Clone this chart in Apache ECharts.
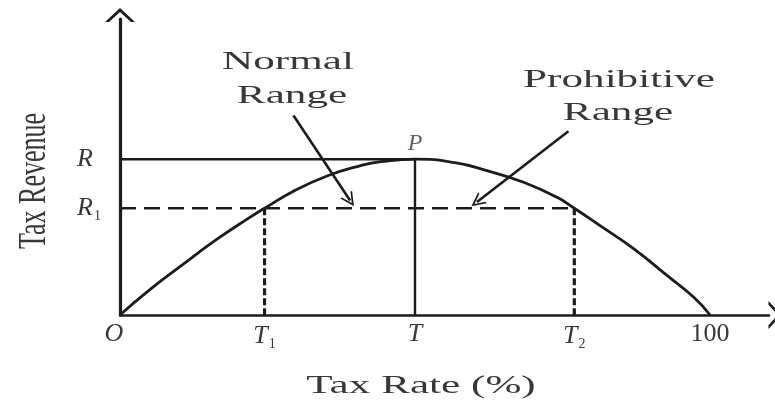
<!DOCTYPE html>
<html>
<head>
<meta charset="utf-8">
<script src="https://cdn.jsdelivr.net/npm/echarts@6/dist/echarts.min.js"></script>
<style>
  html, body { margin: 0; padding: 0; background: #fff; }
  #laffer { width: 775px; height: 403px; }
</style>
</head>
<body>
<div id="laffer"></div>
<script>
  // Laffer curve, tax rate in %, revenue scaled so that R = 100
  var rateX = [0, 4.8, 10.5, 16.2, 21.8, 24.5, 29.4, 35.2, 40.8, 44.2, 50, 57, 62.6, 68.4, 74, 77, 81.3, 87.1, 92.7, 97.3, 100];
  var revenueY = [0, 15.5, 32, 48, 62.2, 68.5, 79.5, 89.4, 95.9, 98.4, 100, 97.6, 92.2, 85.2, 75.7, 68.5, 57.5, 42.5, 25.4, 11.2, 0];

  var xTicks = [0, 24.5, 50, 77, 100];
  var xTickLabels = ['{o|O}', '{i|T}{s|1}', '{i|T}', '{i|T}{s|2}', '{n|100}'];
  var yTicks = [68.5, 100];
  var yTickLabels = ['{i|R}{s|1}', '{i|R}'];

  var peak = [50, 100];
  var r1 = 68.5, t1 = 24.5, t2 = 77;

  // annotation arrows: [from, to]
  var normalArrow = [[29.4, 128], [39, 73.5]];
  var prohibArrow = [[76, 118], [60.5, 72.5]];

  var ink = '#1c1c1c';
  var textInk = '#383838';
  var serif = '"Liberation Serif", "DejaVu Serif", serif';
  // open chevron, pointing up
  var chevron = 'path://M0,14 L15,0 L30,14 L26,14 L15,4 L4,14 Z';

  var curveData = rateX.map(function (x, i) { return [x, revenueY[i]]; });

  var richText = {
    i: { fontFamily: serif, fontStyle: 'italic', fontSize: 26, color: textInk },
    o: { fontFamily: serif, fontStyle: 'italic', fontSize: 26, color: textInk, padding: [0, 12, 0, 0] },
    n: { fontFamily: serif, fontSize: 26, color: textInk },
    s: { fontFamily: serif, fontSize: 14, color: textInk, padding: [16, 0, 0, 1] }
  };

  function stretchedText(str, x, y, rotated) {
    return {
      type: 'text',
      x: x, y: y,
      rotation: rotated ? Math.PI / 2 : 0,
      scaleX: rotated ? 1 : 1.66,
      scaleY: rotated ? 1.5 : 1,
      style: {
        text: str, x: 0, y: 0,
        fill: textInk,
        font: '26px ' + serif,
        textAlign: 'center',
        textVerticalAlign: 'middle'
      }
    };
  }

  var chart = echarts.init(document.getElementById('laffer'));
  chart.setOption({
    animation: false,
    backgroundColor: '#fff',
    grid: { left: 120, right: 6, top: 19, bottom: 88 },
    xAxis: {
      type: 'value', min: 0, max: 110,
      splitLine: { show: false },
      axisTick: { show: false },
      axisLine: {
        onZero: false,
        lineStyle: { color: ink, width: 2.5 },
        symbol: ['none', chevron],
        symbolSize: [28, 14],
        symbolOffset: [0, 6]
      },
      axisLabel: {
        customValues: xTicks,
        margin: 6,
        rich: richText,
        formatter: function (v) { return xTickLabels[xTicks.indexOf(v)]; }
      }
    },
    yAxis: {
      type: 'value', min: 0, max: 190,
      splitLine: { show: false },
      axisTick: { show: false },
      axisLine: {
        onZero: false,
        lineStyle: { color: ink, width: 3.2 },
        symbol: ['none', chevron],
        symbolSize: [30, 14],
        symbolOffset: [0, 4]
      },
      axisLabel: {
        customValues: yTicks,
        margin: 43,
        align: 'left',
        rich: richText,
        formatter: function (v) { return yTickLabels[yTicks.indexOf(v)]; }
      }
    },
    graphic: [
      stretchedText('Normal', 288, 62),
      stretchedText('Range', 292, 96),
      stretchedText('Prohibitive', 619, 80),
      stretchedText('Range', 618, 113),
      stretchedText('Tax Rate (%)', 421, 386),
      stretchedText('Tax Revenue', 35, 181, true)
    ],
    series: [
      {
        type: 'line', smooth: 0.5, showSymbol: false,
        data: curveData,
        lineStyle: { color: ink, width: 2.8 }
      },
      {
        // R level and the vertical at T
        type: 'line', showSymbol: false,
        data: [[0, peak[1]], peak, [peak[0], 0]],
        lineStyle: { color: ink, width: 2.4 }
      },
      {
        type: 'line', showSymbol: false,
        data: [[0, r1], [t2, r1]],
        lineStyle: { color: ink, width: 2.4, type: [16, 8] }
      },
      {
        type: 'line', showSymbol: false,
        data: [[t1, r1], [t1, 0]],
        lineStyle: { color: ink, width: 3.2, type: [7, 3] }
      },
      {
        type: 'line', showSymbol: false,
        data: [[t2, r1], [t2, 0]],
        lineStyle: { color: ink, width: 3.2, type: [7, 3] }
      },
      {
        type: 'scatter', symbolSize: 0,
        data: [peak],
        label: {
          show: true, position: 'top', distance: 4,
          formatter: 'P',
          fontFamily: serif, fontStyle: 'italic', fontSize: 24, color: textInk
        }
      },
      {
        type: 'lines', coordinateSystem: 'cartesian2d',
        symbol: ['none', chevron],
        symbolSize: [26, 14],
        lineStyle: { color: ink, width: 2.6, opacity: 1 },
        data: [{ coords: normalArrow }, { coords: prohibArrow }]
      }
    ]
  });
</script>
</body>
</html>
